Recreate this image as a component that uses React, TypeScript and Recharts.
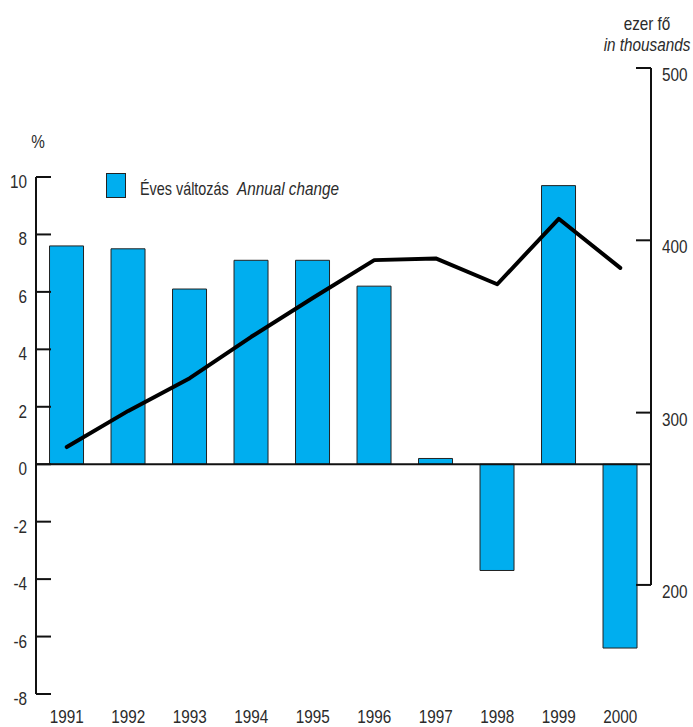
import {
  Bar, ComposedChart, Line, ReferenceLine, XAxis, YAxis,
} from 'recharts'

const years = ['1991', '1992', '1993', '1994', '1995', '1996', '1997', '1998', '1999', '2000']
const annualChange = [7.6, 7.5, 6.1, 7.1, 7.1, 6.2, 0.2, -3.7, 9.7, -6.4]
const thousands = [280, 301, 320, 344, 366.5, 388.5, 389.5, 374.5, 412.5, 384]
const leftTicks = [-8, -6, -4, -2, 0, 2, 4, 6, 8, 10]
const rightTicks = [200, 300, 400, 500]

const W = 693
const H = 727
const LEFT_W = 36
const RIGHT_W = 42
const FONT = '"Liberation Sans", Arial, sans-serif'
const TEXT = '#2b2b2b'
const BLUE = '#00aeef'
const SQUEEZE = 0.85

const data = years.map((y, i) => ({ year: y, change: annualChange[i], people: thousands[i] }))

function NarrowText({ x, y, anchor = 'start', italic = false, squeeze = SQUEEZE, children }: any) {
  return (
    <text
      transform={`translate(${x},${y}) scale(${squeeze},1)`}
      textAnchor={anchor}
      fontSize={18}
      fontStyle={italic ? 'italic' : 'normal'}
      fill={TEXT}
      fontFamily={FONT}
    >
      {children}
    </text>
  )
}

function LeftTick({ y, payload }: any) {
  const ax = LEFT_W
  return (
    <g>
      <line x1={ax} x2={ax + 15} y1={y} y2={y} stroke="#111" strokeWidth={2} />
      <NarrowText x={ax - 9} y={y + 11} anchor="end">{payload.value}</NarrowText>
    </g>
  )
}

function RightTick({ y, payload }: any) {
  const ax = W - RIGHT_W
  return (
    <g>
      <line x1={ax - 15} x2={ax} y1={y} y2={y} stroke="#111" strokeWidth={2} />
      <NarrowText x={ax + 11} y={y + 13}>{payload.value}</NarrowText>
    </g>
  )
}

function YearTick({ x, y, payload }: any) {
  return <NarrowText x={x} y={y + 27} anchor="middle">{payload.value}</NarrowText>
}

export default function App() {
  return (
    <div style={{ position: 'absolute', left: 0, top: 0, width: W, height: H, background: '#fff' }}>
      <ComposedChart width={W} height={H} data={data} margin={{ top: 68, right: 0, bottom: 0, left: 0 }} barCategoryGap="22%">
        <XAxis xAxisId="cat" dataKey="year" height={33} axisLine={false} tickLine={false} tickSize={0} tick={<YearTick />} interval={0} />
        <YAxis yAxisId="left" width={LEFT_W} domain={[-8, 13.795]} ticks={leftTicks} axisLine={false} tickLine={false} tickSize={0} tick={<LeftTick />} allowDataOverflow />
        <YAxis yAxisId="right" orientation="right" width={RIGHT_W} domain={[136.7, 500]} ticks={rightTicks} axisLine={false} tickLine={false} tickSize={0} tick={<RightTick />} allowDataOverflow />
        <Bar xAxisId="cat" yAxisId="left" dataKey="change" fill={BLUE} stroke="#222" strokeWidth={1} isAnimationActive={false} />
        {/* axis lines only span the tick range, so draw them as segments */}
        <ReferenceLine xAxisId="cat" yAxisId="left" position="start" ifOverflow="visible"
          segment={[{ x: years[0], y: leftTicks[0] }, { x: years[0], y: leftTicks[leftTicks.length - 1] }]} stroke="#111" strokeWidth={2} />
        <ReferenceLine xAxisId="cat" yAxisId="right" position="end" ifOverflow="visible"
          segment={[{ x: years[years.length - 1], y: rightTicks[0] }, { x: years[years.length - 1], y: rightTicks[rightTicks.length - 1] }]} stroke="#111" strokeWidth={2} />
        <ReferenceLine xAxisId="cat" yAxisId="left" y={0} stroke="#111" strokeWidth={2} />
        <Line xAxisId="cat" yAxisId="right" dataKey="people" stroke="#000" strokeWidth={4} dot={false} strokeLinecap="round" strokeLinejoin="round" isAnimationActive={false} />
      </ComposedChart>
      <svg width={W} height={H} style={{ position: 'absolute', left: 0, top: 0, pointerEvents: 'none' }}>
        <NarrowText x={38} y={148} anchor="middle">%</NarrowText>
        <NarrowText x={647} y={30} anchor="middle">ezer fő</NarrowText>
        <NarrowText x={647} y={51} anchor="middle" italic>in thousands</NarrowText>
        <rect x={106.5} y={173.5} width={19} height={24} fill={BLUE} stroke="#222" strokeWidth={1} />
        <NarrowText x={140} y={195} squeeze={0.8}>Éves változás</NarrowText>
        <NarrowText x={237} y={195} italic>Annual change</NarrowText>
      </svg>
    </div>
  )
}
